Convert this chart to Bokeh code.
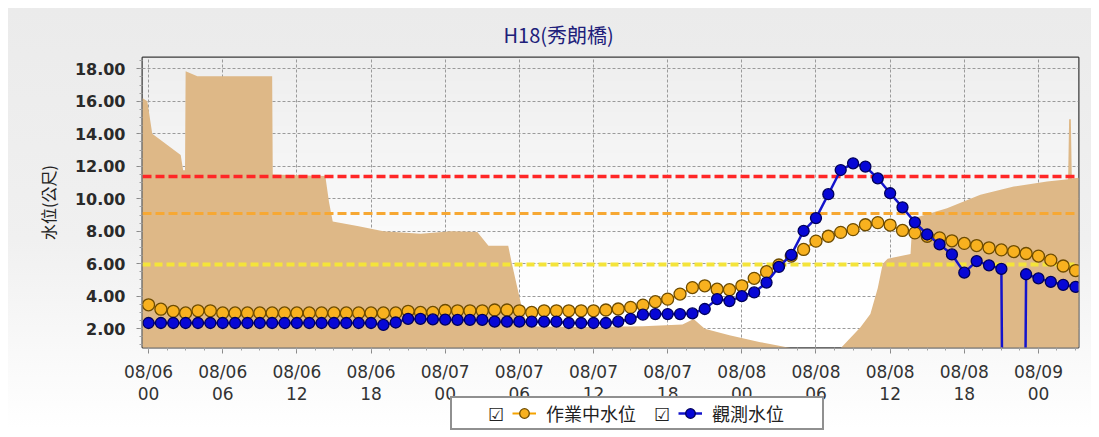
import numpy as np
from bokeh.plotting import figure
from bokeh.layouts import column
from bokeh.models import (Range1d, FixedTicker, Legend, LegendItem, Title,
                          PrintfTickFormatter)
from bokeh.embed import file_html
from bokeh.resources import INLINE

# ---------------- data ----------------
chart_title = "H18(秀朗橋)"
y_label = "水位(公尺)"
series_names = ["作業中水位", "觀測水位"]

hours = list(range(76))  # hourly from 08/06 00:00

forecast = [3.47, 3.2, 3.07, 2.97, 3.1, 3.1, 2.97, 2.97, 2.97, 2.97,
            2.97, 2.97, 2.97, 2.97, 2.97, 2.97, 2.97, 2.97, 2.97, 2.97,
            2.97, 3.07, 3.0, 3.0, 3.12, 3.1, 3.1, 3.1, 3.15, 3.15,
            3.1, 3.0, 3.1, 3.1, 3.1, 3.1, 3.1, 3.15, 3.21, 3.31,
            3.45, 3.66, 3.82, 4.13, 4.53, 4.64, 4.43, 4.4, 4.64, 5.1,
            5.51, 5.92, 6.47, 6.88, 7.39, 7.69, 7.93, 8.1, 8.4, 8.53,
            8.38, 8.05, 7.9, 7.69, 7.59, 7.41, 7.25, 7.12, 6.98, 6.85,
            6.75, 6.63, 6.47, 6.22, 5.86, 5.58]

observed = [2.35, 2.35, 2.35, 2.35, 2.35, 2.35, 2.35, 2.35, 2.35, 2.35,
            2.35, 2.35, 2.35, 2.35, 2.35, 2.35, 2.35, 2.35, 2.35, 2.23,
            2.38, 2.6, 2.6, 2.57, 2.56, 2.54, 2.54, 2.54, 2.43, 2.43,
            2.43, 2.43, 2.43, 2.43, 2.35, 2.35, 2.35, 2.35, 2.43, 2.6,
            2.86, 2.9, 2.9, 2.9, 2.94, 3.21, 3.82, 3.7, 4.0, 4.23,
            4.84, 5.8, 6.55, 8.02, 8.81, 10.28, 11.77, 12.18, 11.98, 11.26,
            10.34, 9.47, 8.55, 7.8, 7.19, 6.57, 5.45, 6.16, 5.9, 5.68,
            -99.0, 5.35, 5.1, 4.88, 4.7, 4.57]

# background area series (hour, value)
area_hours = [-0.5, -0.1, 0.3, 2.6, 2.8, 2.95, 3.0, 3.95, 10.0, 10.05,
              14.3, 14.6, 14.9, 17.0, 19.0, 22.0, 24.5, 26.6, 27.5, 29.1,
              29.4, 30.2, 30.7, 35.0, 40.0, 43.2, 44.1, 45.0, 47.0, 49.5,
              50.7, 52.0, 56.0, 57.6, 58.4, 59.0, 59.4, 59.8, 61.65, 61.8,
              61.9, 64.6, 67.3, 70.0, 72.7, 74.4, 74.48, 74.62, 74.7, 75.3]
area_values = [16.2, 16.0, 14.0, 12.7, 11.75, 11.75, 17.85, 17.55, 17.55, 11.5,
               11.4, 9.8, 8.6, 8.3, 8.0, 7.85, 8.0, 7.95, 7.1, 7.1,
               6.0, 3.3, 2.15, 2.1, 2.15, 2.25, 2.6, 2.0, 1.6, 1.17,
               1.0, 0.8, 0.8, 2.09, 2.9, 4.5, 6.0, 6.3, 6.6, 8.6,
               8.8, 9.42, 10.24, 10.75, 11.06, 11.2, 14.9, 14.9, 11.25, 11.3]

warning_levels = [11.35, 9.1, 5.95]

tick_positions = [0, 6, 12, 18, 24, 30, 36, 42, 48, 54, 60, 66, 72]
tick_dates = ["08/06", "08/06", "08/06", "08/06", "08/07", "08/07", "08/07",
              "08/07", "08/08", "08/08", "08/08", "08/08", "08/09"]
tick_times = ["00", "06", "12", "18", "00", "06", "12", "18", "00", "06",
              "12", "18", "00"]
y_ticks = [2, 4, 6, 8, 10, 12, 14, 16, 18]

# ---------------- main figure ----------------
x0, x1 = -0.49, 75.24
y0, y1 = 0.84, 18.70
BORDER_L, BORDER_R = 134, 13

p = figure(width=1083, height=421, x_range=Range1d(x0, x1), y_range=Range1d(y0, y1),
           output_backend="svg", toolbar_location=None,
           min_border_left=BORDER_L, min_border_right=BORDER_R,
           min_border_top=47, min_border_bottom=82)
p.border_fill_alpha = 0
p.background_fill_alpha = 0
p.styles = {"margin": "8px 0 0 8px",
            "background": "linear-gradient(to bottom, #ebebeb 0%, #f0f0f0 55%, #ffffff 100%)"}
p.outline_line_color = "#3a3a3a"
p.outline_line_width = 2

p.title = Title(text=chart_title, align="left", offset=361, standoff=18,
                text_font="Noto Sans CJK TC", text_font_size="20px",
                text_font_style="normal", text_color="#20207a")

# plot-area gradient
n = 64
img = np.empty((n, 1), dtype=np.uint32)
view = img.view(dtype=np.uint8).reshape((n, 1, 4))
for i in range(n):
    t = i / (n - 1)
    g = int(round(255 - 17 * min(1.0, max(0.0, (t - 0.15) / 0.85))))
    view[i, 0, :] = [g, g, g, 255]
p.image_rgba(image=[img], x=x0, y=y0, dw=x1 - x0, dh=y1 - y0, level="image")

# grid
for g in (p.xgrid, p.ygrid):
    g.grid_line_color = "#9a9a9a"
    g.grid_line_dash = "3 2"
    g.grid_line_width = 1

# area
p.varea(x=area_hours, y1=0, y2=area_values, fill_color="#deb887", fill_alpha=1)

# warning lines
p.hspan(y=[warning_levels[0]], line_color="#ff2626", line_width=3.5, line_dash="9 4")
p.hspan(y=[warning_levels[1]], line_color="#f7a833", line_width=3, line_dash="9 4")
p.hspan(y=[warning_levels[2]], line_color="#f4e43a", line_width=4, line_dash="8 4")

# series
FC_LINE = dict(line_color="#f5a300", line_width=2)
FC_MARK = dict(fill_color="#f8b11f", line_color="#6e4c00", line_width=1.3)
OB_LINE = dict(line_color="#1414cc", line_width=2.5)
OB_MARK = dict(fill_color="#0707d6", line_color="#00005a", line_width=1.3)

p.line(hours, forecast, **FC_LINE)
p.scatter(hours, forecast, size=12, **FC_MARK)
p.line(hours, observed, **OB_LINE)
p.scatter(hours, observed, size=11, **OB_MARK)

# axes
p.xaxis.ticker = FixedTicker(ticks=tick_positions,
                             minor_ticks=[h * 1.5 for h in range(0, 51)])
p.xaxis.major_label_overrides = {t: f"{d}\n{h}" for t, d, h in zip(tick_positions, tick_dates, tick_times)}
p.yaxis.ticker = FixedTicker(ticks=y_ticks, minor_ticks=[v * 0.5 for v in range(2, 38)])
p.yaxis.formatter = PrintfTickFormatter(format="%.2f")

for ax in (p.xaxis[0], p.yaxis[0]):
    ax.axis_line_color = None
    ax.major_tick_line_color = "#8a8a8a"
    ax.minor_tick_line_color = "#a0a0a0"
    ax.major_tick_in = 0
    ax.minor_tick_in = 0
    ax.major_tick_out = 6
    ax.minor_tick_out = 3

p.xaxis.major_label_text_font = "DejaVu Sans"
p.xaxis.major_label_text_font_size = "17px"
p.xaxis.major_label_text_color = "#333333"
p.xaxis.major_label_text_line_height = 1.1
p.xaxis.major_label_standoff = 8

p.yaxis.major_label_text_font = "DejaVu Sans"
p.yaxis.major_label_text_font_size = "16px"
p.yaxis.major_label_text_font_style = "bold"
p.yaxis.major_label_text_color = "#2a2a2a"
p.yaxis.major_label_standoff = 11
p.yaxis.axis_label = y_label
p.yaxis.axis_label_text_font = "Noto Sans CJK TC"
p.yaxis.axis_label_text_font_size = "16px"
p.yaxis.axis_label_text_font_style = "normal"
p.yaxis.axis_label_text_color = "#222222"
p.yaxis.axis_label_standoff = 12

# ---------------- legend strip (overlaps the axis area like the original) ----------------
lg = figure(width=BORDER_L + 380 + BORDER_R, height=36,
            x_range=Range1d(-2, -1), y_range=Range1d(-2, -1),
            output_backend="svg", toolbar_location=None, title=None,
            min_border_left=BORDER_L, min_border_right=BORDER_R,
            min_border_top=0, min_border_bottom=0,
            x_axis_location=None, y_axis_location=None)
lg.outline_line_color = None
lg.background_fill_alpha = 0
lg.border_fill_alpha = 0
lg.grid.visible = False
lg.styles = {"margin-top": "-34px", "margin-left": "315px"}

# the legend keys reuse the series (all outside this strip's ranges, so only keys show)
k_blank = lg.scatter(hours, forecast, fill_alpha=0, line_alpha=0)
k_fl = lg.line(hours, forecast, **FC_LINE)
k_fs = lg.scatter(hours, forecast, **FC_MARK)
k_ol = lg.line(hours, observed, **OB_LINE)
k_os = lg.scatter(hours, observed, **OB_MARK)

legend = Legend(items=[LegendItem(label="\u2611", renderers=[k_blank]),
                       LegendItem(label=series_names[0] + "\u3000\u2611", renderers=[k_fl, k_fs]),
                       LegendItem(label=series_names[1] + "\u3000\u3000", renderers=[k_ol, k_os])],
                orientation="horizontal", location="top_left", margin=1,
                label_text_font="Noto Sans CJK TC", label_text_font_size="18px",
                label_text_color="#222222", glyph_width=24, glyph_height=26,
                label_standoff=10, spacing=8, padding=2, label_width=0,
                border_line_color="#222222", border_line_width=2,
                background_fill_color="white", background_fill_alpha=1)
lg.add_layout(legend)

layout = column(p, lg, spacing=0)

open("out.html", "w").write(file_html(layout, INLINE))
